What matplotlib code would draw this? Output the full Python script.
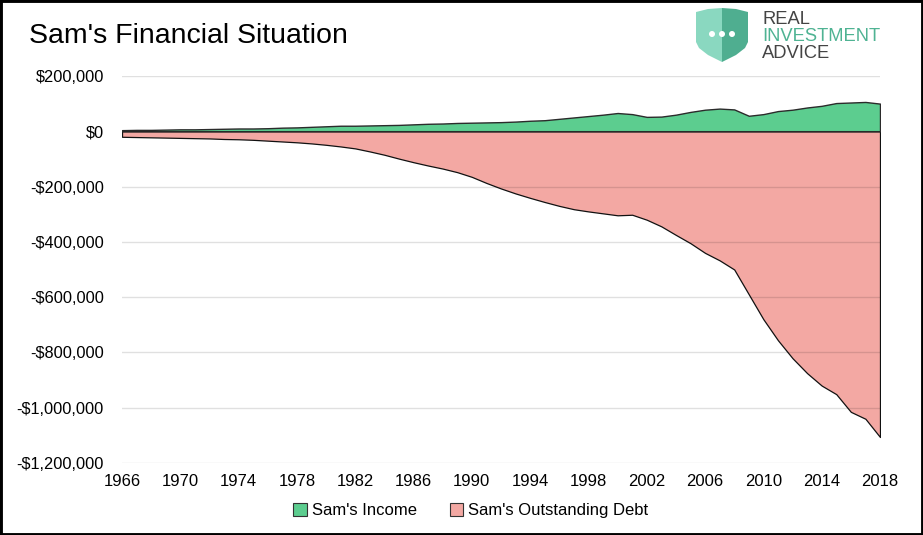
import matplotlib
matplotlib.use('Agg')
import matplotlib.pyplot as plt
from matplotlib.patches import Rectangle, Polygon, Ellipse, Patch
from matplotlib.ticker import FuncFormatter

years = list(range(1966, 2019))

# thousands of dollars
income = [4, 5, 5, 6, 7, 7, 8, 9, 10, 10,
          11, 13, 14, 16, 18, 20, 20, 21, 22, 23,
          25, 27, 28, 30, 31, 32, 33, 35, 38, 40,
          45, 50, 55, 60, 66, 62, 52, 53, 60, 70,
          78, 82, 79, 56, 62, 73, 78, 86, 92, 102,
          104, 106, 100]
debt = [-20, -21, -22, -23, -24, -25, -26, -28, -29, -31,
        -34, -37, -40, -44, -49, -55, -62, -73, -85, -99,
        -112, -124, -135, -148, -165, -187, -207, -225, -241, -256,
        -270, -282, -290, -297, -304, -302, -320, -344, -375, -405,
        -440, -467, -500, -590, -680, -756, -821, -875, -920, -951,
        -1015, -1040, -1106]

income = [v * 1000 for v in income]
debt = [v * 1000 for v in debt]

narrow = ['Liberation Sans Narrow', 'Liberation Sans', 'DejaVu Sans']
plt.rcParams['font.family'] = ['Liberation Sans', 'DejaVu Sans']

fig = plt.figure(figsize=(9.23, 5.35), dpi=100)
ax = fig.add_axes([0.1322, 0.1346, 0.8212, 0.7234])

green = '#5ccd8f'
pink = '#f3a8a3'

ax.fill_between(years, 0, debt, facecolor=pink, edgecolor='#111111', linewidth=0.9, zorder=2)
ax.fill_between(years, 0, income, facecolor=green, edgecolor='#2b2b2b', linewidth=1.0, zorder=2)

ax.set_xlim(1966, 2018)
ax.set_ylim(-1200000, 200000)
ax.set_xticks(range(1966, 2019, 4))
ax.set_yticks(range(-1200000, 200001, 200000))


def money(v, pos):
    if v == 0:
        return '$0'
    if v < 0:
        return '-${:,.0f}'.format(-v)
    return '${:,.0f}'.format(v)


ax.yaxis.set_major_formatter(FuncFormatter(money))
ax.grid(axis='y', color='black', alpha=0.12, linewidth=1.0, zorder=3)
ax.set_axisbelow(False)
ax.tick_params(axis='both', length=0, colors='black')
ax.tick_params(axis='y', pad=13, labelsize=11.8)
ax.tick_params(axis='x', pad=8, labelsize=12)
for lab in ax.get_xticklabels():
    lab.set_family(narrow)
for s in ax.spines.values():
    s.set_visible(False)

# title
fig.text(0.031, 0.933, "Sam's Financial Situation", fontsize=20.5, ha='left', va='center')

# legend
handles = [Patch(facecolor=green, edgecolor='#333333', linewidth=0.8, label="Sam's Income"),
           Patch(facecolor=pink, edgecolor='#333333', linewidth=0.8, label="Sam's Outstanding Debt")]
fig.legend(handles=handles, loc='center', bbox_to_anchor=(0.51, 0.046), ncol=2, frameon=False,
           prop={'family': narrow, 'size': 12}, handlelength=0.8, handleheight=0.8,
           handletextpad=0.3, columnspacing=2.0)

# logo
W, H = 923.0, 535.0
def fx(px):
    return px / W
def fy(py):
    return 1 - py / H

left_half = Polygon([(fx(696), fy(12)), (fx(708), fy(9)), (fx(722), fy(8)), (fx(722), fy(62)),
                     (fx(708), fy(55)), (fx(699), fy(48)), (fx(696), fy(42))], closed=True,
                    transform=fig.transFigure, facecolor='#8ad8c0', edgecolor='none')
right_half = Polygon([(fx(722), fy(8)), (fx(736), fy(9)), (fx(748), fy(12)), (fx(748), fy(42)),
                      (fx(745), fy(48)), (fx(736), fy(55)), (fx(722), fy(62))], closed=True,
                     transform=fig.transFigure, facecolor='#4fae90', edgecolor='none')
fig.patches.extend([left_half, right_half])
for dx in (712, 722, 732):
    fig.patches.append(Ellipse((fx(dx), fy(34)), 6 / W, 6 / H, transform=fig.transFigure,
                               facecolor='white', edgecolor='none'))
fig.text(fx(762), fy(20), 'REAL', fontsize=13.2, color='#444444', va='center', ha='left')
fig.text(fx(762), fy(36.5), 'INVESTMENT', fontsize=13.2, color='#4fb393', va='center', ha='left')
fig.text(fx(762), fy(53), 'ADVICE', fontsize=13.2, color='#444444', va='center', ha='left')

# black frame
fig.patches.append(Rectangle((0, 0), 1, 1, transform=fig.transFigure, fill=False,
                             edgecolor='black', linewidth=3.5))

fig.savefig('out.png', dpi=100)
plt.close(fig)
